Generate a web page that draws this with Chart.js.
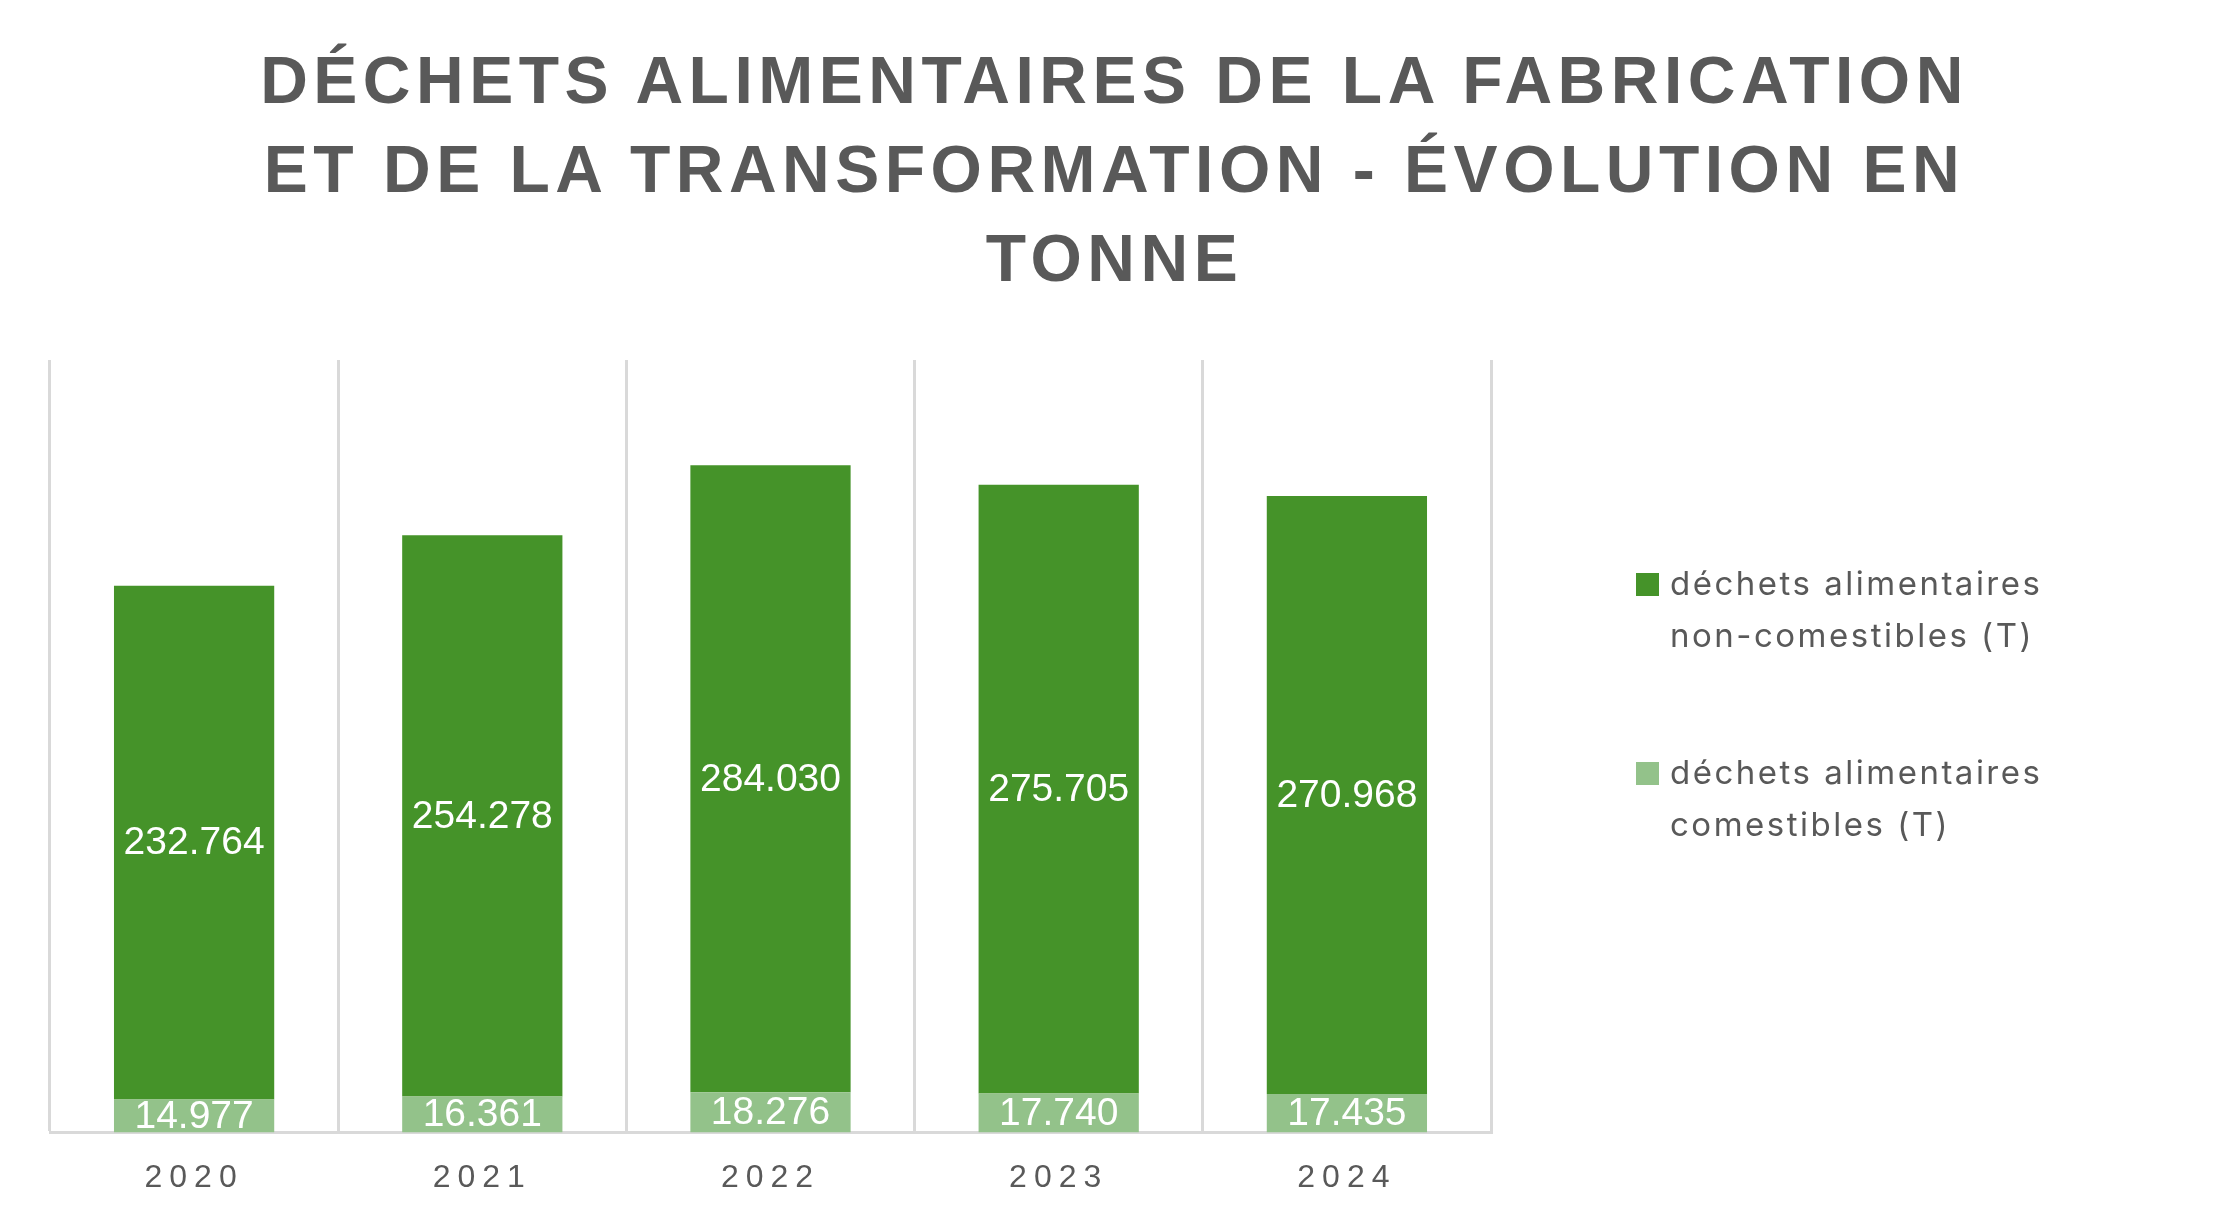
<!DOCTYPE html>
<html lang="fr">
<head>
  <meta charset="UTF-8">
  <title>Déchets alimentaires de la fabrication et de la transformation</title>
  <script src="https://cdn.jsdelivr.net/npm/chart.js"></script>
  <style>
    html, body { margin: 0; padding: 0; background: #fff; }
    #page { position: relative; width: 2224px; height: 1231px; overflow: hidden; }
    #graphique { position: absolute; left: 0; top: 0; }
    #titre {
      position: absolute; left: 0; top: 36px; width: 2224px; margin: 0;
      text-align: center; color: #595959;
      font: bold 66px/89px "Liberation Sans", Arial, sans-serif;
      letter-spacing: 5.5px; padding-left: 5px; box-sizing: border-box;
    }
    .legende {
      position: absolute; left: 1636px; width: 480px;
      font: 33px/52px Inter, "Noto Sans", sans-serif; color: #595959;
      letter-spacing: 2.5px;
    }
    .legende span.carre {
      position: absolute; left: 0; top: 16px; width: 23px; height: 23px;
    }
    .legende .texte { margin-left: 34px; width: 420px; }
    .legende .mot { white-space: nowrap; }
  </style>
</head>
<body>
<div id="page">
  <canvas id="graphique" width="2224" height="1231"></canvas>
  <h1 id="titre">DÉCHETS ALIMENTAIRES DE LA FABRICATION<br>ET DE LA TRANSFORMATION - ÉVOLUTION EN<br>TONNE</h1>
  <div id="legendes"></div>
</div>

<script>
  // données (tonnes)
  const annees = ['2020', '2021', '2022', '2023', '2024'];
  const nonComestibles = [232764, 254278, 284030, 275705, 270968];
  const comestibles = [14977, 16361, 18276, 17740, 17435];

  const nomNonComestibles = 'déchets alimentaires non-comestibles (T)';
  const nomComestibles = 'déchets alimentaires comestibles (T)';

  const vertFonce = '#459329';
  const vertClair = '#93C28A';

  const fmt = new Intl.NumberFormat('de-DE');

  // étiquettes blanches au centre de chaque segment
  const etiquettes = {
    id: 'etiquettes',
    beforeDraw(chart) {
      chart.ctx.letterSpacing = '7px'; // pour les années sous l'axe
    },
    beforeDatasetsDraw(chart) {
      chart.ctx.letterSpacing = '0px';
    },
    afterDatasetsDraw(chart) {
      const ctx = chart.ctx;
      ctx.save();
      ctx.letterSpacing = '0px';
      ctx.font = '39px "Liberation Sans", Arial, sans-serif';
      ctx.fillStyle = '#ffffff';
      ctx.textAlign = 'center';
      ctx.textBaseline = 'middle';
      chart.data.datasets.forEach((ds, i) => {
        chart.getDatasetMeta(i).data.forEach((barre, j) => {
          ctx.fillText(fmt.format(ds.data[j]), barre.x, (barre.y + barre.base) / 2 + 1);
        });
      });
      ctx.restore();
    },
    afterDraw(chart) {
      chart.ctx.letterSpacing = '0px';
    }
  };

  const config = {
    type: 'bar',
    data: {
      labels: annees,
      datasets: [
        {
          label: nomComestibles,
          data: comestibles,
          backgroundColor: vertClair,
          borderWidth: 0,
          categoryPercentage: 1,
          barPercentage: 0.556
        },
        {
          label: nomNonComestibles,
          data: nonComestibles,
          backgroundColor: vertFonce,
          borderWidth: 0,
          categoryPercentage: 1,
          barPercentage: 0.556
        }
      ]
    },
    options: {
      responsive: false,
      animation: false,
      devicePixelRatio: 1,
      layout: { padding: { left: 50, right: 733, top: 360, bottom: 8 } },
      plugins: {
        legend: { display: false },
        title: { display: false },
        tooltip: { enabled: false }
      },
      scales: {
        x: {
          stacked: true,
          grid: { color: '#d9d9d9', lineWidth: 3, offset: true, drawTicks: false },
          border: { color: '#d9d9d9', width: 3 },
          ticks: {
            color: '#595959',
            padding: 26,
            font: { family: '"Liberation Sans", Arial, sans-serif', size: 32 }
          }
        },
        y: {
          stacked: true,
          display: false,
          min: 0,
          max: 350000
        }
      }
    },
    plugins: [etiquettes]
  };

  const graphique = new Chart(document.getElementById('graphique'), config);

  // légende à droite, texte sur deux lignes comme dans Excel
  const legendes = document.getElementById('legendes');
  [[nomNonComestibles, vertFonce, 557], [nomComestibles, vertClair, 746]].forEach(([nom, couleur, haut]) => {
    const bloc = document.createElement('div');
    bloc.className = 'legende';
    bloc.style.top = haut + 'px';
    const mots = nom.split(' ').map(m => '<span class="mot">' + m + '</span>').join(' ');
    bloc.innerHTML = '<span class="carre" style="background:' + couleur + '"></span><div class="texte">' + mots + '</div>';
    legendes.appendChild(bloc);
  });
</script>
</body>
</html>
